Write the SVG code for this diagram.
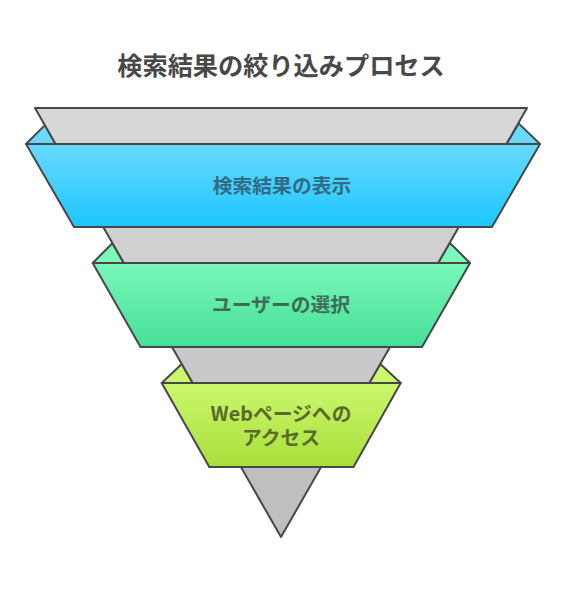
<svg xmlns="http://www.w3.org/2000/svg" width="565" height="600" viewBox="0 0 565 600">
<defs>
<linearGradient id="gBlue" x1="0" y1="0" x2="0" y2="1"><stop offset="0" stop-color="#68d9ff"/><stop offset="1" stop-color="#1dc6ff"/></linearGradient>
<linearGradient id="gGreen" x1="0" y1="0" x2="0" y2="1"><stop offset="0" stop-color="#7af7bb"/><stop offset="1" stop-color="#46df96"/></linearGradient>
<linearGradient id="gLime" x1="0" y1="0" x2="0" y2="1"><stop offset="0" stop-color="#cbf76e"/><stop offset="1" stop-color="#a8df3a"/></linearGradient>
<style>
.s{stroke:#474747;stroke-width:2;stroke-linejoin:round}
.t{font-family:"Noto Sans CJK JP","Noto Sans",sans-serif;font-weight:bold;text-anchor:middle}
</style>
</defs>
<rect width="565" height="600" fill="#ffffff"/>
<text class="t" x="281" y="74.5" font-size="25.2" fill="#484848">検索結果の絞り込みプロセス</text>
<g id="ears">
<polygon class="s" fill="#6ad9ff" points="26,144 44.9,125.1 55.6,144"/>
<polygon class="s" fill="#6ad9ff" points="540,144 518.6,123.4 506.4,144"/>
<polygon class="s" fill="#7cf8bd" points="92.7,263 112.3,243.3 123.9,263"/>
<polygon class="s" fill="#7cf8bd" points="470,263 449.7,242.7 438.1,263"/>
<polygon class="s" fill="#cbf76c" points="161.7,383 181.8,364 192.7,383"/>
<polygon class="s" fill="#cbf76c" points="400.7,383 380.3,364 369.3,383"/>
</g>
<g id="funnel">
<polygon class="s" fill="#d7d7d7" points="35,108 527,108 506.4,144 55.6,144"/>
<polygon class="s" fill="#d0d0d0" points="103.2,227 458.8,227 438.1,263 123.9,263"/>
<polygon class="s" fill="#c8c8c8" points="172,347 390,347 369.3,383 192.7,383"/>
<polygon class="s" fill="#bfbfbf" points="240.9,467 321.1,467 281,537"/>
</g>
<g id="node-search-results">
<polygon class="s" fill="url(#gBlue)" points="26,144 540,144 492,227 74,227"/>
<text class="t" x="282" y="192.5" font-size="19.8" fill="#326b82">検索結果の表示</text>
</g>
<g id="node-user-selection">
<polygon class="s" fill="url(#gGreen)" points="92.7,263 470,263 422,347 140.5,347"/>
<text class="t" x="281" y="312" font-size="19.8" fill="#3d6e55">ユーザーの選択</text>
</g>
<g id="node-web-access">
<polygon class="s" fill="url(#gLime)" points="161.7,383 400.7,383 353.5,467 209.3,467"/>
<text class="t" x="281" y="420.5" font-size="19.8" fill="#5a6a2c">Webページへの</text>
<text class="t" x="281" y="444.5" font-size="19.8" fill="#5a6a2c">アクセス</text>
</g>
</svg>
